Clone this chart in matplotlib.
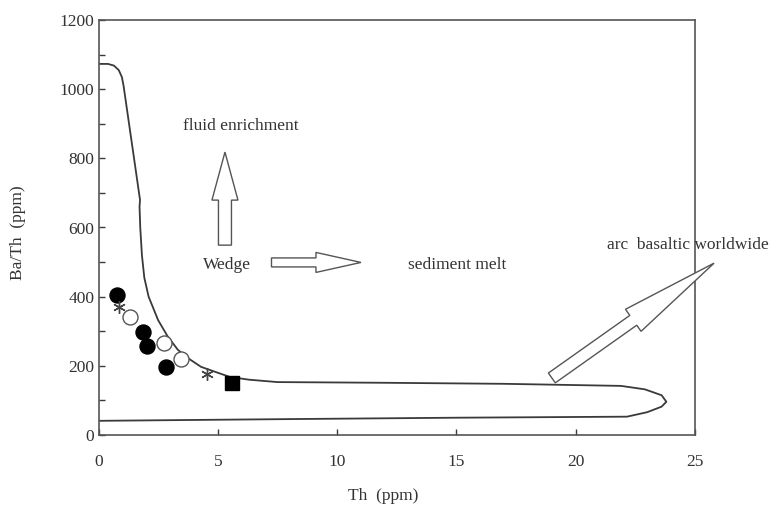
import matplotlib
matplotlib.use("Agg")
import matplotlib.pyplot as plt
from matplotlib.patches import Polygon
from matplotlib.ticker import MultipleLocator
import numpy as np

plt.rcParams['font.family'] = ['Liberation Serif', 'DejaVu Serif']

# --- data ---
filled_x = [0.79, 1.88, 2.05, 2.83]
filled_y = [405, 299, 257, 198]
open_x = [1.32, 2.75, 3.45]
open_y = [342, 265, 219]
star_x = [0.87, 4.56]
star_y = [371, 176]
square_x = [5.61]
square_y = [150]

# field boundary curve
curve_x = [0, 0.4, 0.65, 0.85, 0.98, 1.05, 1.74, 1.72, 1.75, 1.82, 1.92, 2.1, 2.5, 2.9,
           3.33, 3.8, 4.3, 5.0, 5.5, 6.3, 7.5, 12, 17, 21.9, 22.9, 23.6, 23.8, 23.6,
           23.0, 22.15, 15, 8, 0]
curve_y = [1073, 1073, 1068, 1055, 1035, 1010, 680, 660, 600, 520, 455, 400, 332, 285,
           246, 220, 197, 180, 168, 160, 153, 151, 148, 142, 132, 115, 96, 82,
           66, 53, 50, 46, 41]

color = '#3a3a3a'

fig = plt.figure(figsize=(7.72, 5.11), dpi=100)
L, R, B, T = 98.5 / 772, 695 / 772, (511 - 435) / 511, (511 - 20) / 511
ax = fig.add_axes([L, B, R - L, T - B])
ax.set_xlim(0, 25)
ax.set_ylim(0, 1200)

ax.plot(curve_x, curve_y, color=color, lw=1.3, zorder=2)

ax.plot(filled_x, filled_y, 'o', ms=10.8, mfc='black', mec='black', zorder=4)
ax.plot(open_x, open_y, 'o', ms=10.8, mfc='white', mec='#555555', mew=1.0, zorder=4)
ax.plot(star_x, star_y, marker=(6, 2, 0), ls='none', ms=9, mec='#444444', mew=1.0, zorder=4)
ax.plot(square_x, square_y, 's', ms=10.2, mfc='black', mec='black', zorder=4)

# ticks
ax.xaxis.set_major_locator(MultipleLocator(5))
ax.yaxis.set_major_locator(MultipleLocator(200))
ax.yaxis.set_minor_locator(MultipleLocator(100))
ax.tick_params(axis='both', which='both', direction='in', length=4.5, width=1.0,
               colors=color, labelsize=12.5, top=False, right=False)
ax.tick_params(axis='x', pad=14)
ax.tick_params(axis='y', pad=3)
for lab in ax.get_xticklabels() + ax.get_yticklabels():
    lab.set_color('#333333')
for s in ax.spines.values():
    s.set_color('#555555')
    s.set_linewidth(1.2)

xl = ax.set_xlabel('Th  (ppm)', fontsize=12.5, color='#333333')
ax.xaxis.set_label_coords((383 - 98.5) / 596.5, (435 - 496) / 415)
xl.set_va('center')
yl = ax.set_ylabel('Ba/Th  (ppm)', fontsize=12.5, color='#333333')
ax.yaxis.set_label_coords((18 - 98.5) / 596.5, (435 - 233) / 415)
yl.set_va('center')
yl.set_ha('center')

# text annotations
ax.text(3.54, 893, 'fluid enrichment', fontsize=12.5, color='#333333', va='center', ha='left')
ax.text(4.38, 493, 'Wedge', fontsize=12.5, color='#333333', va='center', ha='left')
ax.text(12.97, 493, 'sediment melt', fontsize=12.5, color='#333333', va='center', ha='left')
ax.text(21.3, 549, 'arc  basaltic worldwide', fontsize=12.5, color='#333333',
        va='center', ha='left', clip_on=False)

# block arrows: (tail_x, tail_y, tip_x, tip_y, shaft_w_px, head_w_px, head_len_px)
arrows = [
    (5.3, 549, 5.3, 818, 13, 26, 48),
    (7.25, 499, 11.0, 499, 9, 20, 45),
    (19.0, 165, 25.8, 497, 12, 27, 99),
]

fig.canvas.draw()
for tx, ty, hx, hy, sw, hw, hl in arrows:
    p0 = ax.transData.transform((tx, ty))
    p1 = ax.transData.transform((hx, hy))
    d = p1 - p0
    length = np.hypot(*d)
    u = d / length
    n = np.array([-u[1], u[0]])
    base = p1 - u * hl
    pts = [p0 + n * sw / 2, base + n * sw / 2, base + n * hw / 2, p1,
           base - n * hw / 2, base - n * sw / 2, p0 - n * sw / 2]
    poly = Polygon(pts, closed=True, transform=None, facecolor='white',
                   edgecolor='#555555', lw=1.0, clip_on=False, zorder=5)
    fig.add_artist(poly)

fig.savefig('out.png', dpi=100)
